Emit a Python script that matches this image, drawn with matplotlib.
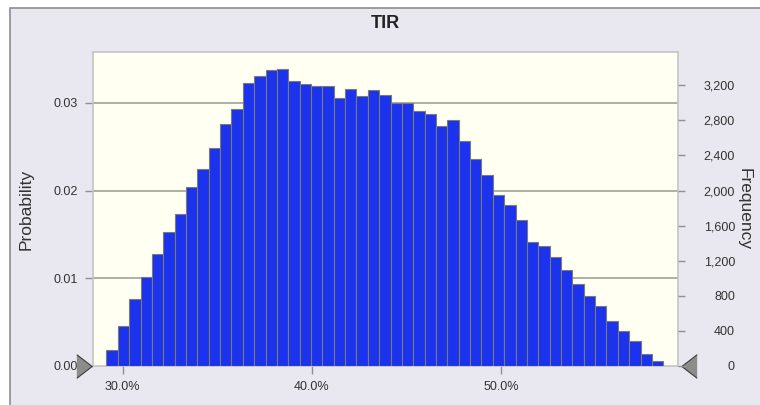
import matplotlib
matplotlib.use('Agg')
from matplotlib import pyplot as plt
from matplotlib.patches import Rectangle
from matplotlib.ticker import FuncFormatter

# histogram of TIR (probability per bin, 0.6% wide bins starting at 29.15%)
bin_start = 29.15
bin_width = 0.6
probs = [0.0018, 0.0046, 0.0076, 0.0102, 0.0128, 0.0153, 0.0173, 0.0204, 0.0225, 0.0249,
         0.0276, 0.0293, 0.0323, 0.0331, 0.0338, 0.0339, 0.0325, 0.0322, 0.0319, 0.0319,
         0.0305, 0.0316, 0.0308, 0.0315, 0.0309, 0.0300, 0.0300, 0.0291, 0.0287, 0.0274,
         0.0280, 0.0257, 0.0236, 0.0218, 0.0195, 0.0184, 0.0167, 0.0141, 0.0137, 0.0124,
         0.0110, 0.0093, 0.0080, 0.0068, 0.0051, 0.0040, 0.0028, 0.0014, 0.0006]
trials = 100000
prob_ticks = [0.00, 0.01, 0.02, 0.03]
freq_ticks = [0, 400, 800, 1200, 1600, 2000, 2400, 2800, 3200]
x_ticks = [30, 40, 50]

plt.rcParams['font.family'] = ['Liberation Sans', 'DejaVu Sans']
txt = '#333333'

fig = plt.figure(figsize=(7.6, 4.05), dpi=100, facecolor='white')
# outer panel
fig.patches.append(Rectangle((9.5 / 760, -0.1), 1.1, 1 - 7.5 / 405 + 0.1, transform=fig.transFigure,
                             facecolor='#E9E7EF', edgecolor='#8C8C8C', linewidth=1.2, zorder=-10))

ax = fig.add_axes([93 / 760, 39 / 405, 585 / 760, 314 / 405])
ax.set_facecolor('#FFFFF2')

lefts = [bin_start + bin_width * i for i in range(len(probs))]
ax.bar(lefts, probs, width=bin_width, align='edge', color='#1B33EC',
       edgecolor='#7A7A78', linewidth=0.8, zorder=3)

ax.set_xlim(28.44, 59.33)
ax.set_ylim(0, 0.0358)
ax.set_yticks(prob_ticks)
ax.yaxis.set_major_formatter(FuncFormatter(lambda v, p: '%.2f' % v))
ax.set_xticks(x_ticks)
ax.xaxis.set_major_formatter(FuncFormatter(lambda v, p: '%.1f%%' % v))
for y in prob_ticks[1:]:
    ax.axhline(y, color='#A8A8A0', linewidth=1.3, zorder=1)

ax.tick_params(axis='both', colors='#909090', labelcolor=txt, labelsize=9, length=6, width=1)
ax.tick_params(axis='y', pad=5)
ax.tick_params(axis='x', pad=5)
for s in ax.spines.values():
    s.set_color('#C4C4C4')
    s.set_linewidth(1.2)

ax2 = ax.twinx()
ax2.set_ylim(0, 0.0358 * trials)
ax2.set_yticks(freq_ticks)
ax2.yaxis.set_major_formatter(FuncFormatter(lambda v, p: '{:,.0f}'.format(v)))
ax2.tick_params(axis='y', colors='#909090', labelcolor=txt, labelsize=9, length=5, width=1, pad=36)
for lab in ax2.get_yticklabels():
    lab.set_horizontalalignment('right')
for s in ax2.spines.values():
    s.set_visible(False)

ax.set_ylabel('Probability', fontsize=12.5, color=txt, labelpad=14)
ax2.set_ylabel('Frequency', fontsize=12.5, color=txt, rotation=-90, labelpad=12)
ax.set_title('TIR', fontsize=13, fontweight='bold', color='#222222', pad=17)

# certainty grabbers
tri_r = [(-0.65, -1), (0.65, 0), (-0.65, 1)]
tri_l = [(0.65, -1), (-0.65, 0), (0.65, 1)]
ax.plot([-0.016], [0], marker=tri_r, markersize=17, color='#8C8C8C', markeredgecolor='#3C3C3C',
        markeredgewidth=0.8, transform=ax.transAxes, clip_on=False, zorder=5)
ax.plot([1.018], [0], marker=tri_l, markersize=17, color='#8C8C8C', markeredgecolor='#3C3C3C',
        markeredgewidth=0.8, transform=ax.transAxes, clip_on=False, zorder=5)

fig.savefig('out.png', dpi=100, facecolor=fig.get_facecolor())
